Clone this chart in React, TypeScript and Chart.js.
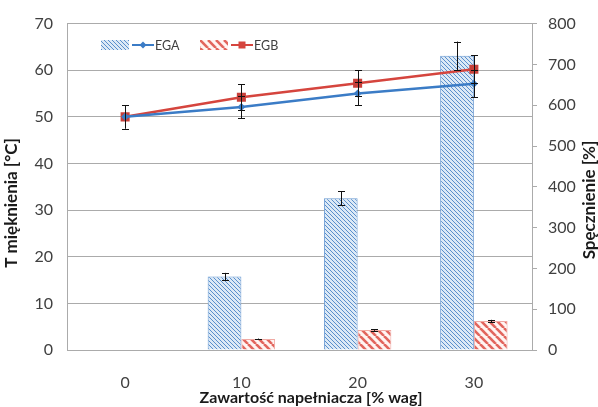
import React, { useEffect, useRef } from 'react';
import { Chart, registerables } from 'chart.js';

Chart.register(...registerables);

// ---- data ----
const categories = ['0', '10', '20', '30'];
const egaTemp = [50, 52.1, 55.0, 57.1];
const egaTempErr = [2.5, 2.4, 2.5, 2.9];
const egbTemp = [50, 54.2, 57.2, 60.2];
const egbTempErr = [2.5, 2.8, 2.8, 3.0];
const egaSwell = [null, 180, 372, 721];
const egaSwellErr = [null, 9, 17, 35];
const egbSwell = [null, 27, 49, 71];
const egbSwellErr = [null, 1, 2, 3];
const leftTicks = [0, 10, 20, 30, 40, 50, 60, 70];
const rightTicks = [0, 100, 200, 300, 400, 500, 600, 700, 800];
const seriesNames = ['EGA', 'EGB'];
const xTitle = 'Zawartość napełniacza [% wag]';
const yTitle = 'T mięknienia [°C]';
const y2Title = 'Spęcznienie [%]';

const BLUE = '#3b7cc6';
const RED = '#d5453e';
const GRID = '#ababab';
const FONT = 'Lato, "Open Sans", sans-serif';

function makeHatch(size: number, bg: string, fg: string, lw: number): CanvasPattern | string {
  const c = document.createElement('canvas');
  c.width = size;
  c.height = size;
  const g = c.getContext('2d');
  if (!g) return bg;
  g.fillStyle = bg;
  g.fillRect(0, 0, size, size);
  g.strokeStyle = fg;
  g.lineWidth = lw;
  for (const i of [-1, 0, 1]) {
    g.beginPath();
    g.moveTo(i * size, 0);
    g.lineTo(i * size + size, size);
    g.stroke();
  }
  const p = g.createPattern(c, 'repeat');
  return p || bg;
}

export default function App() {
  const ref = useRef<HTMLCanvasElement | null>(null);

  useEffect(() => {
    const canvas = ref.current;
    if (!canvas) return;
    const blueHatch = makeHatch(4, '#dce9f6', '#5a8fcc', 1);
    const redHatch = makeHatch(8, '#fff4f2', '#e2655d', 2.6);

    const errorMap: Record<number, (number | null)[]> = {
      0: egaTempErr,
      1: egbTempErr,
      2: egaSwellErr,
      3: egbSwellErr,
    };

    const extras = {
      id: 'extras',
      afterDatasetsDraw(chart: any) {
        const ctx = chart.ctx as CanvasRenderingContext2D;
        ctx.save();
        ctx.strokeStyle = '#111';
        ctx.lineWidth = 1;
        chart.data.datasets.forEach((ds: any, di: number) => {
          const errs = errorMap[di];
          const meta = chart.getDatasetMeta(di);
          const scale = chart.scales[ds.yAxisID];
          meta.data.forEach((el: any, i: number) => {
            const v = ds.data[i];
            const e = errs[i];
            if (v == null || e == null) return;
            const x = Math.round(el.x) + 0.5;
            const yt = scale.getPixelForValue(v + e);
            const yb = scale.getPixelForValue(v - e);
            ctx.beginPath();
            ctx.moveTo(x, yt);
            ctx.lineTo(x, yb);
            ctx.moveTo(x - 3.5, Math.round(yt) + 0.5);
            ctx.lineTo(x + 3.5, Math.round(yt) + 0.5);
            ctx.moveTo(x - 3.5, Math.round(yb) + 0.5);
            ctx.lineTo(x + 3.5, Math.round(yb) + 0.5);
            ctx.stroke();
          });
        });
        ctx.restore();
      },
      afterDraw(chart: any) {
        const ctx = chart.ctx as CanvasRenderingContext2D;
        ctx.save();
        // legend
        const ly = 45;
        const items = [
          { x: 101, fill: blueHatch, color: BLUE, style: 'diamond', name: seriesNames[0] },
          { x: 200, fill: redHatch, color: RED, style: 'square', name: seriesNames[1] },
        ];
        items.forEach((it) => {
          ctx.fillStyle = it.fill as any;
          ctx.fillRect(it.x, ly - 5, 28, 10);
          ctx.strokeStyle = it.color;
          ctx.lineWidth = 2;
          ctx.beginPath();
          ctx.moveTo(it.x + 31, ly);
          ctx.lineTo(it.x + 53, ly);
          ctx.stroke();
          ctx.fillStyle = it.color;
          const cx = it.x + 42;
          if (it.style === 'diamond') {
            ctx.beginPath();
            ctx.moveTo(cx, ly - 3.5);
            ctx.lineTo(cx + 3.5, ly);
            ctx.lineTo(cx, ly + 3.5);
            ctx.lineTo(cx - 3.5, ly);
            ctx.closePath();
            ctx.fill();
          } else {
            ctx.fillRect(cx - 3.5, ly - 3.5, 7, 7);
          }
          ctx.fillStyle = '#404040';
          ctx.font = `12.5px ${FONT}`;
          ctx.textAlign = 'left';
          ctx.textBaseline = 'middle';
          ctx.fillText(it.name, it.x + 54, ly + 0.5);
        });
        // axis titles
        ctx.fillStyle = '#1a1a1a';
        ctx.textAlign = 'center';
        ctx.textBaseline = 'middle';
        ctx.font = `bold 16px ${FONT}`;
        ctx.fillText(xTitle, 311, 398);
        ctx.font = `bold 17px ${FONT}`;
        ctx.save();
        ctx.translate(12, 203);
        ctx.rotate(-Math.PI / 2);
        ctx.fillText(yTitle, 0, 0);
        ctx.restore();
        ctx.save();
        ctx.translate(590, 200);
        ctx.rotate(-Math.PI / 2);
        ctx.fillText(y2Title, 0, 0);
        ctx.restore();
        ctx.restore();
      },
    };

    const chart = new Chart(canvas, {
      type: 'bar',
      data: {
        labels: categories,
        datasets: [
          {
            type: 'line',
            label: seriesNames[0],
            data: egaTemp,
            yAxisID: 'y',
            borderColor: BLUE,
            backgroundColor: BLUE,
            borderWidth: 2.5,
            pointStyle: 'rectRot',
            pointRadius: 4,
            pointBorderWidth: 0,
            order: 0,
          } as any,
          {
            type: 'line',
            label: seriesNames[1],
            data: egbTemp,
            yAxisID: 'y',
            borderColor: RED,
            backgroundColor: '#c8403a',
            borderWidth: 2.5,
            pointStyle: 'rect',
            pointRadius: 6.4,
            pointBorderWidth: 0,
            order: 0,
          } as any,
          {
            type: 'bar',
            label: seriesNames[0],
            data: egaSwell,
            yAxisID: 'y2',
            backgroundColor: blueHatch as any,
            borderColor: '#6a9ad2',
            borderWidth: 1,
            categoryPercentage: 0.58,
            barPercentage: 1,
            order: 1,
          } as any,
          {
            type: 'bar',
            label: seriesNames[1],
            data: egbSwell,
            yAxisID: 'y2',
            backgroundColor: redHatch as any,
            borderColor: '#f0aaa4',
            borderWidth: 1,
            categoryPercentage: 0.58,
            barPercentage: 1,
            order: 1,
          } as any,
        ],
      },
      options: {
        animation: false,
        responsive: false,
        layout: { padding: { top: 23, left: 0, right: 0, bottom: 0 } },
        plugins: {
          legend: { display: false },
          tooltip: { enabled: false },
        },
        scales: {
          x: {
            offset: true,
            grid: { display: false },
            border: { display: true, color: GRID },
            ticks: { color: '#404040', font: { family: FONT, size: 16 }, padding: 15 },
            afterFit: (s: any) => { s.height = 57; },
          },
          y: {
            position: 'left',
            min: 0,
            max: 70,
            afterBuildTicks: (s: any) => { s.ticks = leftTicks.map((v) => ({ value: v })); },
            grid: { color: GRID, drawTicks: false },
            border: { display: true, color: GRID },
            ticks: { color: '#404040', font: { family: FONT, size: 16 }, padding: 14 },
            afterFit: (s: any) => { s.width = 67; },
          },
          y2: {
            position: 'right',
            min: 0,
            max: 800,
            afterBuildTicks: (s: any) => { s.ticks = rightTicks.map((v) => ({ value: v })); },
            grid: { drawOnChartArea: false, color: GRID, tickLength: 5 },
            border: { display: true, color: GRID },
            ticks: { color: '#404040', font: { family: FONT, size: 16 }, padding: 11 },
            afterFit: (s: any) => { s.width = 66; },
          },
        },
      },
      plugins: [extras],
    });
    return () => chart.destroy();
  }, []);

  return (
    <div style={{ position: 'fixed', left: 0, top: 0, width: 598, height: 407, background: '#fff' }}>
      <canvas ref={ref} width={598} height={407} style={{ width: 598, height: 407 }} />
    </div>
  );
}
